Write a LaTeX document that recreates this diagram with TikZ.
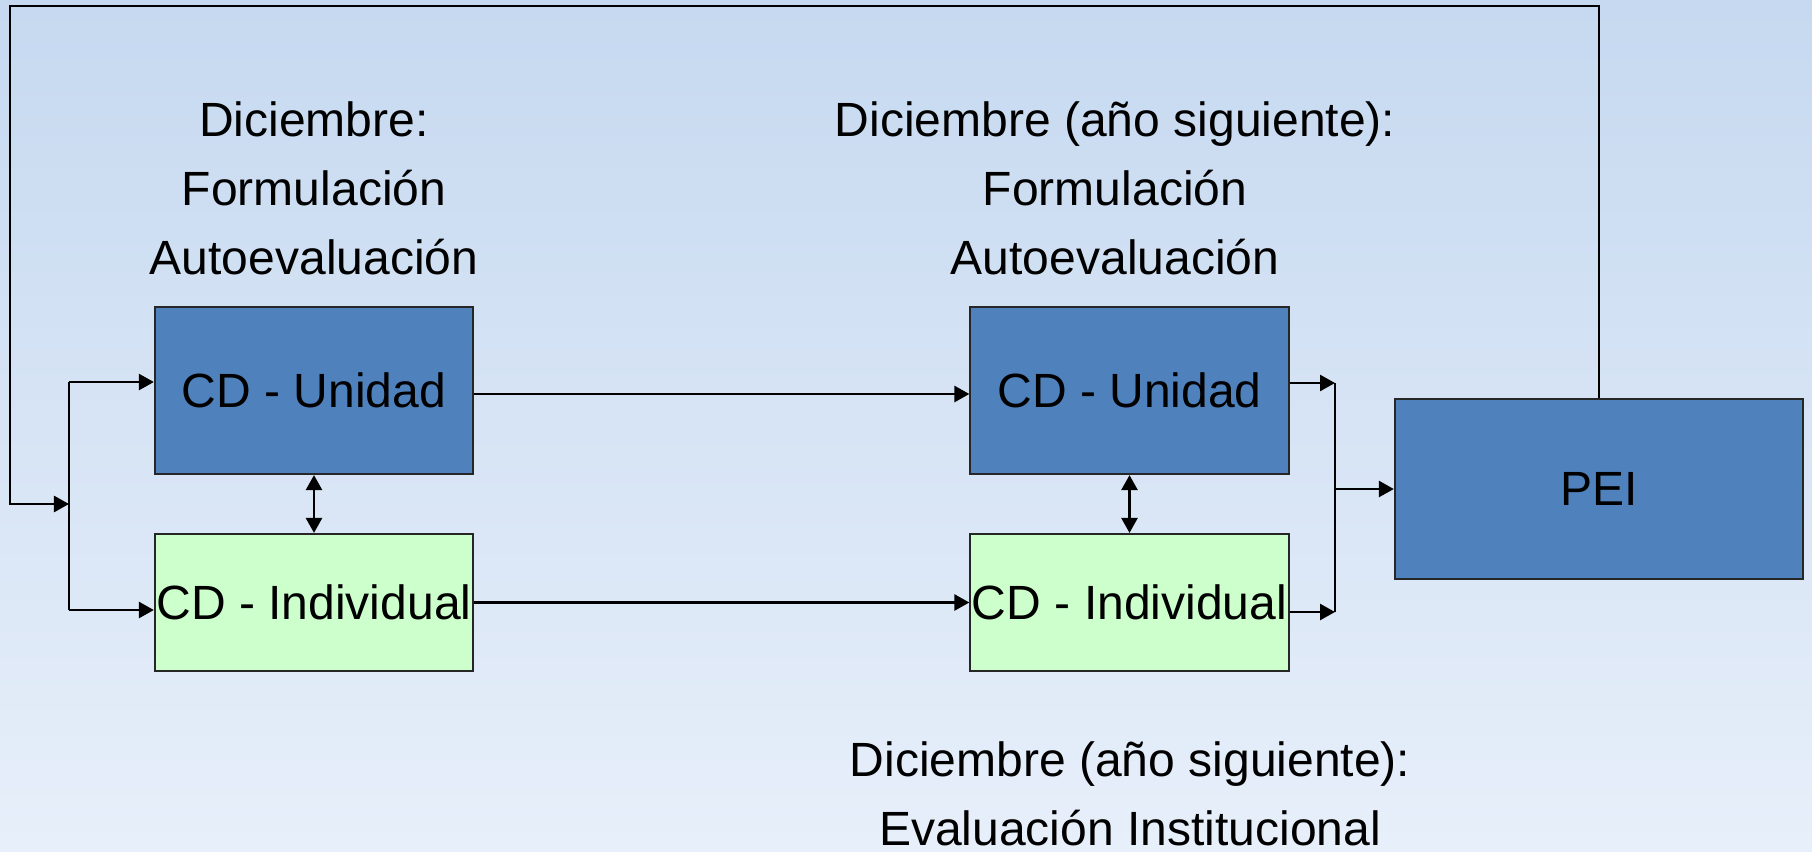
\documentclass[tikz,border=0pt]{standalone}
\usepackage{fontspec}
\setmainfont{Liberation Sans}
\usetikzlibrary{arrows.meta}

\definecolor{bgtop}{RGB}{198,217,240}
\definecolor{bgbottom}{RGB}{231,239,250}
\definecolor{boxblue}{RGB}{79,129,189}
\definecolor{boxgreen}{RGB}{204,255,204}

\begin{document}
\begin{tikzpicture}[x=0.01cm,y=-0.01cm,
    >={Triangle[length=0.15cm,width=0.16cm]},
    font=\fontsize{13.66pt}{19.6pt}\selectfont,
    box/.style={draw=black!85,line width=0.6pt,inner sep=0pt,minimum width=3.18cm},
    unidad/.style={box,fill=boxblue,minimum height=1.67cm},
    indiv/.style={box,fill=boxgreen,minimum height=1.37cm},
    conn/.style={line width=0.75pt}]
  \useasboundingbox (0,0) rectangle (1812,851);
  \shade[top color=bgtop,middle color=bgtop!80!bgbottom,bottom color=bgbottom] (0,0) rectangle (1812,851);

  % boxes
  \node[unidad] (u1) at (314,390.5) {CD - Unidad};
  \node[indiv] (i1) at (314,602.5) {CD - Individual};
  \node[unidad] (u2) at (1129.5,390.5) {CD - Unidad};
  \node[indiv] (i2) at (1129.5,602.5) {CD - Individual};
  \node[box,fill=boxblue,minimum width=4.08cm,minimum height=1.8cm] (pei) at (1599,489) {PEI};

  % labels
  \node[align=center] (lab1) at (314,188) {Diciembre:\\Formulación\\Autoevaluación};
  \node[align=center] (lab2) at (1115,188) {Diciembre (año siguiente):\\Formulación\\Autoevaluación};
  \node[align=center] (lab3) at (1130,794) {Diciembre (año siguiente):\\Evaluación Institucional};

  \coordinate (fbcorner) at (10,6);
  \coordinate (split) at (69,504);
  \coordinate (splittop) at (69,382);
  \coordinate (splitbot) at (69,610);
  \coordinate (merge) at (1335,489);
  \coordinate (mergetop) at (1335,383);
  \coordinate (mergebot) at (1335,612);

  % feedback and split
  \draw[conn,->] (pei.north) |- (fbcorner) |- (split);
  \draw[conn] (splittop) -- (splitbot);
  \draw[conn,->] (splittop) -- (u1.west |- splittop);
  \draw[conn,->] (splitbot) -- (i1.west |- splitbot);

  % between years
  \draw[conn,->] ([yshift=-0.035cm]u1.east) -- ([yshift=-0.035cm]u2.west);
  \draw[conn,->] (i1) -- (i2);
  \draw[conn,<->] (u1) -- (i1);
  \draw[conn,<->] (u2) -- (i2);

  % merge into PEI
  \draw[conn,->] (u2.east |- mergetop) -- (mergetop);
  \draw[conn,->] (i2.east |- mergebot) -- (mergebot);
  \draw[conn] (mergetop) -- (mergebot);
  \draw[conn,->] (merge) -- (pei);
\end{tikzpicture}
\end{document}
